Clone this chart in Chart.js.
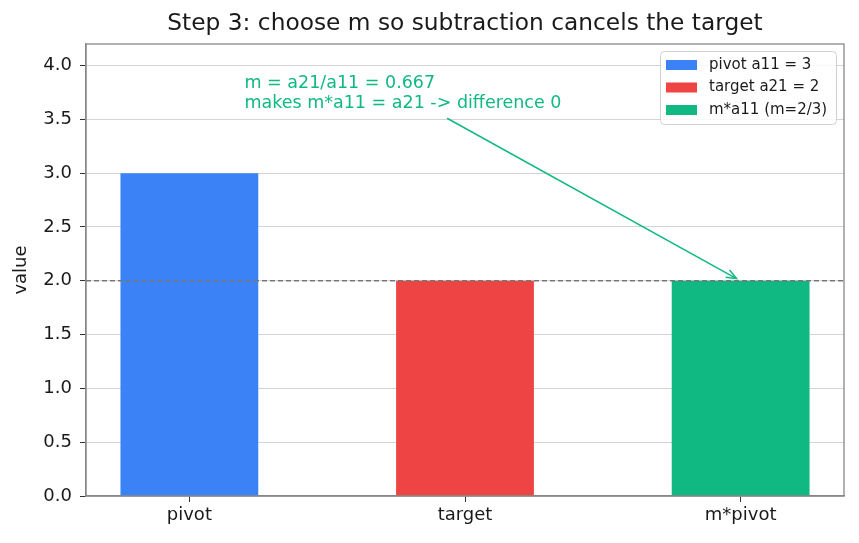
<!DOCTYPE html>
<html>
<head>
<meta charset="utf-8">
<script src="https://cdn.jsdelivr.net/npm/chart.js@4"></script>
<style>
    html, body { margin: 0; padding: 0; background: #ffffff; }
    #wrap { width: 859px; height: 543px; position: relative; }
</style>
</head>
<body>
<div id="wrap"><canvas id="chart"></canvas></div>
<script>
// data
const categories = ["pivot", "target", "m*pivot"];
const values = [3, 2, 2];
const seriesLabels = ["pivot a11 = 3", "target a21 = 2", "m*a11 (m=2/3)"];
const barColors = ["#3b82f6", "#ef4444", "#10b981"];
const yTicks = [0, 0.5, 1, 1.5, 2, 2.5, 3, 3.5, 4];
const referenceLevel = 2;
const noteLines = ["m = a21/a11 = 0.667", "makes m*a11 = a21 -> difference 0"];
const noteAnchor = { x: 0.2, y: 3.6 };
const arrowFrom = { x: 0.935, y: 3.51 };
const arrowTo = { x: 1.985, y: 2.02 };

const FONT = "'DejaVu Sans', sans-serif";

// dashed line, spines, note with arrow, title and legend
const overlayPlugin = {
    id: "overlay",
    afterDraw(chart) {
        const ctx = chart.ctx;
        const xs = chart.scales.x;
        const ys = chart.scales.y;
        const area = chart.chartArea;

        ctx.save();
        // reference line
        const yRef = ys.getPixelForValue(referenceLevel);
        ctx.strokeStyle = "#777777";
        ctx.lineWidth = 1.3;
        ctx.setLineDash([5, 3]);
        ctx.beginPath();
        ctx.moveTo(area.left, yRef);
        ctx.lineTo(area.right, yRef);
        ctx.stroke();
        ctx.setLineDash([]);

        // spines
        ctx.strokeStyle = "#888888";
        ctx.lineWidth = 1.3;
        ctx.strokeRect(area.left, area.top, area.right - area.left, area.bottom - area.top);

        // note text
        ctx.fillStyle = "#10b981";
        ctx.font = "17.5px " + FONT;
        ctx.textAlign = "left";
        ctx.textBaseline = "middle";
        const nx = xs.getPixelForValue(noteAnchor.x);
        const ny = ys.getPixelForValue(noteAnchor.y);
        ctx.fillText(noteLines[0], nx, ny - 25);
        ctx.fillText(noteLines[1], nx, ny - 5);

        // arrow
        const x1 = xs.getPixelForValue(arrowFrom.x), y1 = ys.getPixelForValue(arrowFrom.y);
        const x2 = xs.getPixelForValue(arrowTo.x), y2 = ys.getPixelForValue(arrowTo.y);
        ctx.strokeStyle = "#10b981";
        ctx.lineWidth = 1.5;
        ctx.beginPath();
        ctx.moveTo(x1, y1);
        ctx.lineTo(x2, y2);
        ctx.stroke();
        const ang = Math.atan2(y2 - y1, x2 - x1);
        const hl = 11;
        ctx.beginPath();
        ctx.moveTo(x2 - hl * Math.cos(ang - 0.38), y2 - hl * Math.sin(ang - 0.38));
        ctx.lineTo(x2, y2);
        ctx.lineTo(x2 - hl * Math.cos(ang + 0.38), y2 - hl * Math.sin(ang + 0.38));
        ctx.stroke();

        // title
        ctx.fillStyle = "#1a1a1a";
        ctx.font = "23.3px " + FONT;
        ctx.textAlign = "center";
        ctx.textBaseline = "middle";
        ctx.fillText("Step 3: choose m so subtraction cancels the target", (area.left + area.right) / 2, 24);

        // legend
        const lx = 660, ly = 51, lw = 176, lh = 73;
        ctx.fillStyle = "rgba(255,255,255,0.85)";
        ctx.strokeStyle = "#d0d0d0";
        ctx.lineWidth = 1;
        ctx.beginPath();
        ctx.roundRect(lx + 0.5, ly + 0.5, lw, lh, 4);
        ctx.fill();
        ctx.stroke();
        ctx.font = "15px " + FONT;
        ctx.textAlign = "left";
        ctx.textBaseline = "middle";
        seriesLabels.forEach((label, i) => {
            const ry = ly + 14 + i * 22.5;
            ctx.fillStyle = barColors[i];
            ctx.fillRect(lx + 6, ry - 5, 31, 10);
            ctx.fillStyle = "#1a1a1a";
            ctx.fillText(label, lx + 49, ry);
        });
        ctx.restore();
    }
};

new Chart(document.getElementById("chart"), {
    type: "bar",
    data: {
        datasets: [{
            data: values.map((v, i) => ({ x: i, y: v })),
            backgroundColor: barColors,
            borderWidth: 0,
            barPercentage: 0.5,
            categoryPercentage: 1.0
        }]
    },
    options: {
        responsive: true,
        maintainAspectRatio: false,
        animation: false,
        layout: { padding: { top: 44, right: 15, left: 0, bottom: 0 } },
        plugins: {
            legend: { display: false },
            title: { display: false },
            tooltip: { enabled: false }
        },
        scales: {
            x: {
                type: "linear",
                min: -0.375,
                max: 2.375,
                offset: false,
                afterBuildTicks: (axis) => {
                    axis.ticks = categories.map((c, i) => ({ value: i }));
                },
                afterFit: (axis) => { axis.height = 47; },
                ticks: {
                    color: "#1a1a1a",
                    font: { family: FONT, size: 18 },
                    padding: 3,
                    maxRotation: 0,
                    callback: (value) => categories[value] ?? ""
                },
                grid: { offset: false, drawOnChartArea: false, tickLength: 6, tickColor: "#333333" },
                border: { color: "#888888", width: 1.3 }
            },
            y: {
                min: 0,
                max: 4.2,
                z: 1,
                afterBuildTicks: (axis) => {
                    axis.ticks = yTicks.map(v => ({ value: v }));
                },
                afterFit: (axis) => { axis.width = 86; },
                ticks: {
                    color: "#1a1a1a",
                    font: { family: FONT, size: 18 },
                    padding: 8,
                    callback: (value) => value.toFixed(1)
                },
                title: {
                    display: true,
                    text: "value",
                    color: "#1a1a1a",
                    font: { family: FONT, size: 18 },
                    padding: { top: 11, bottom: 0 }
                },
                grid: { color: "rgba(170,170,170,0.5)", lineWidth: 1, tickLength: 6, tickColor: "#333333" },
                border: { color: "#888888", width: 1.3 }
            }
        }
    },
    plugins: [overlayPlugin]
});
</script>
</body>
</html>
